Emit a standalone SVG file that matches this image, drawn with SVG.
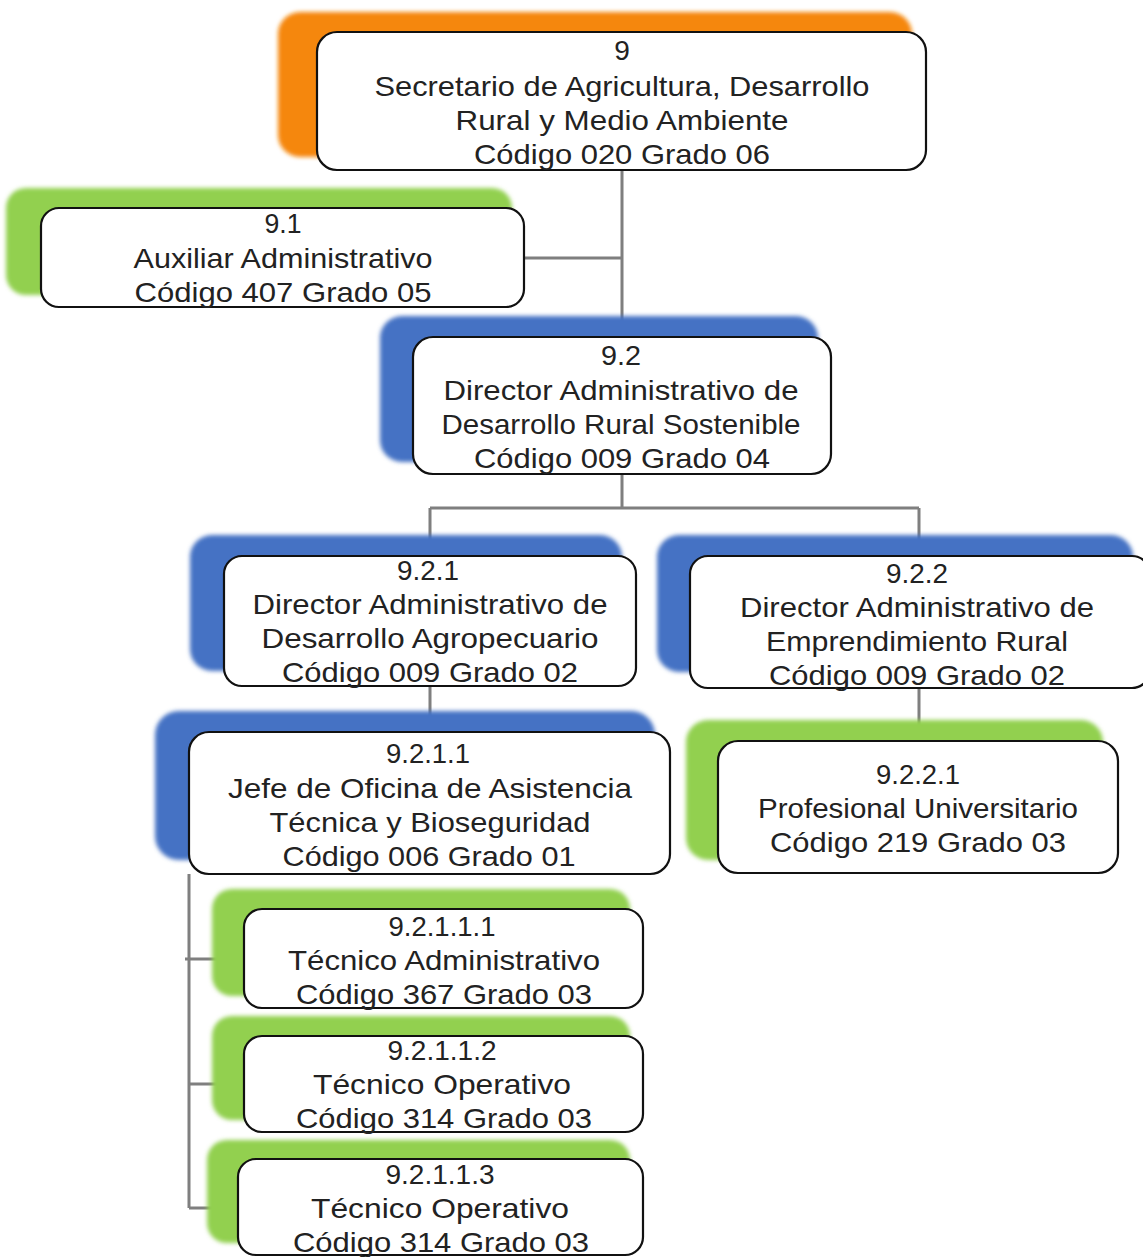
<svg xmlns="http://www.w3.org/2000/svg" width="1143" height="1257" viewBox="0 0 1143 1257">
<style>
.box{fill:#fff;stroke:#111;stroke-width:2.2}
.or{fill:#F5870F}
.gr{fill:#92D050}
.bl{fill:#4472C4}
.bd{filter:url(#soft)}
text{font-family:"Liberation Sans",Arial,sans-serif;font-size:28px;fill:#222;text-anchor:middle}
.cn{stroke:#7f7f7f;stroke-width:3;fill:none}
</style>
<defs>
<filter id="soft" x="-5%" y="-10%" width="110%" height="120%"><feGaussianBlur stdDeviation="2"/></filter>
</defs>
<rect width="1143" height="1257" fill="#fff"/>
<g id="connectors">
<path class="cn" d="M622,170V337M524,258H622M622,474V508M430,508H919M430,508V556M919,508V556M430,686V732M919,688V741M189,874V1208M185,959H244M189,1084H244M189,1208H238"/>
</g>
<g id="n9">
<rect class="or bd" x="278" y="12" width="634" height="145" rx="22"/>
<rect class="box" x="317" y="32" width="609" height="138" rx="20"/>
<text x="622" y="60">9</text>
<text x="622" y="96" textLength="495" lengthAdjust="spacingAndGlyphs">Secretario de Agricultura, Desarrollo</text>
<text x="622" y="130" textLength="333" lengthAdjust="spacingAndGlyphs">Rural y Medio Ambiente</text>
<text x="622" y="164" textLength="296" lengthAdjust="spacingAndGlyphs">Código 020 Grado 06</text>
</g>
<g id="n9_1">
<rect class="gr bd" x="6" y="188" width="506" height="107" rx="20"/>
<rect class="box" x="41" y="208" width="483" height="99" rx="18"/>
<text x="283" y="233" textLength="37" lengthAdjust="spacingAndGlyphs">9.1</text>
<text x="283" y="268" textLength="299" lengthAdjust="spacingAndGlyphs">Auxiliar Administrativo</text>
<text x="283" y="302" textLength="297" lengthAdjust="spacingAndGlyphs">Código 407 Grado 05</text>
</g>
<g id="n9_2">
<rect class="bl bd" x="380" y="316" width="438" height="146" rx="22"/>
<rect class="box" x="413" y="337" width="418" height="137" rx="20"/>
<text x="621" y="365" textLength="40" lengthAdjust="spacingAndGlyphs">9.2</text>
<text x="621" y="400" textLength="355" lengthAdjust="spacingAndGlyphs">Director Administrativo de</text>
<text x="621" y="434" textLength="359" lengthAdjust="spacingAndGlyphs">Desarrollo Rural Sostenible</text>
<text x="622" y="468" textLength="296" lengthAdjust="spacingAndGlyphs">Código 009 Grado 04</text>
</g>
<g id="n9_2_1">
<rect class="bl bd" x="190" y="535" width="432" height="136" rx="22"/>
<rect class="box" x="224" y="556" width="412" height="130" rx="18"/>
<text x="428" y="580" textLength="62" lengthAdjust="spacingAndGlyphs">9.2.1</text>
<text x="430" y="614" textLength="355" lengthAdjust="spacingAndGlyphs">Director Administrativo de</text>
<text x="430" y="648" textLength="337" lengthAdjust="spacingAndGlyphs">Desarrollo Agropecuario</text>
<text x="430" y="682" textLength="296" lengthAdjust="spacingAndGlyphs">Código 009 Grado 02</text>
</g>
<g id="n9_2_2">
<rect class="bl bd" x="657" y="535" width="476" height="137" rx="22"/>
<rect class="box" x="690" y="556" width="460" height="132" rx="18"/>
<text x="917" y="583" textLength="62" lengthAdjust="spacingAndGlyphs">9.2.2</text>
<text x="917" y="617" textLength="354" lengthAdjust="spacingAndGlyphs">Director Administrativo de</text>
<text x="917" y="651" textLength="302" lengthAdjust="spacingAndGlyphs">Emprendimiento Rural</text>
<text x="917" y="685" textLength="296" lengthAdjust="spacingAndGlyphs">Código 009 Grado 02</text>
</g>
<g id="n9_2_1_1">
<rect class="bl bd" x="155" y="711" width="500" height="149" rx="24"/>
<rect class="box" x="189" y="732" width="481" height="142" rx="20"/>
<text x="428" y="763" textLength="84" lengthAdjust="spacingAndGlyphs">9.2.1.1</text>
<text x="430" y="798" textLength="404" lengthAdjust="spacingAndGlyphs">Jefe de Oficina de Asistencia</text>
<text x="430" y="832" textLength="321" lengthAdjust="spacingAndGlyphs">Técnica y Bioseguridad</text>
<text x="429" y="866" textLength="293" lengthAdjust="spacingAndGlyphs">Código 006 Grado 01</text>
</g>
<g id="n9_2_2_1">
<rect class="gr bd" x="686" y="720" width="417" height="140" rx="22"/>
<rect class="box" x="718" y="741" width="400" height="132" rx="20"/>
<text x="918" y="784" textLength="84" lengthAdjust="spacingAndGlyphs">9.2.2.1</text>
<text x="918" y="818" textLength="320" lengthAdjust="spacingAndGlyphs">Profesional Universitario</text>
<text x="918" y="852" textLength="296" lengthAdjust="spacingAndGlyphs">Código 219 Grado 03</text>
</g>
<g id="n9_2_1_1_1">
<rect class="gr bd" x="212" y="889" width="418" height="107" rx="20"/>
<rect class="box" x="244" y="909" width="399" height="99" rx="18"/>
<text x="442" y="936" textLength="107" lengthAdjust="spacingAndGlyphs">9.2.1.1.1</text>
<text x="444" y="970" textLength="312" lengthAdjust="spacingAndGlyphs">Técnico Administrativo</text>
<text x="444" y="1004" textLength="296" lengthAdjust="spacingAndGlyphs">Código 367 Grado 03</text>
</g>
<g id="n9_2_1_1_2">
<rect class="gr bd" x="212" y="1016" width="418" height="104" rx="20"/>
<rect class="box" x="244" y="1036" width="399" height="96" rx="18"/>
<text x="442" y="1060" textLength="109" lengthAdjust="spacingAndGlyphs">9.2.1.1.2</text>
<text x="442" y="1094" textLength="258" lengthAdjust="spacingAndGlyphs">Técnico Operativo</text>
<text x="444" y="1128" textLength="296" lengthAdjust="spacingAndGlyphs">Código 314 Grado 03</text>
</g>
<g id="n9_2_1_1_3">
<rect class="gr bd" x="207" y="1140" width="423" height="103" rx="20"/>
<rect class="box" x="238" y="1159" width="405" height="96" rx="18"/>
<text x="440" y="1184" textLength="109" lengthAdjust="spacingAndGlyphs">9.2.1.1.3</text>
<text x="440" y="1218" textLength="258" lengthAdjust="spacingAndGlyphs">Técnico Operativo</text>
<text x="441" y="1252" textLength="296" lengthAdjust="spacingAndGlyphs">Código 314 Grado 03</text>
</g>
</svg>
